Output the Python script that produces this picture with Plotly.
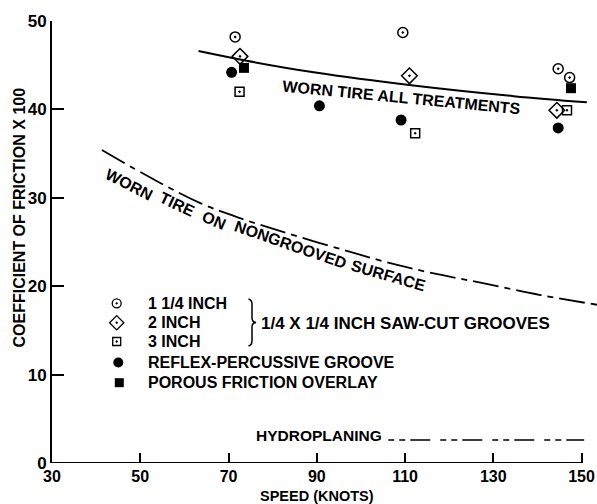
import plotly.graph_objects as go

# ---------------- data ----------------
speed_1_25in = [71.5, 109.5, 144.7, 147.3]
cof_1_25in = [48.2, 48.7, 44.6, 43.6]
speed_2in = [72.6, 111.0, 144.4]
cof_2in = [46.0, 43.8, 39.9]
speed_3in = [72.5, 112.3, 146.7]
cof_3in = [42.0, 37.3, 39.9]
speed_reflex = [70.7, 90.6, 109.1, 144.7]
cof_reflex = [44.2, 40.4, 38.8, 37.9]
speed_porous = [73.5, 147.6]
cof_porous = [44.7, 42.4]

worn_all_speed = [63.2, 74.1, 89.3, 111.9, 134.6, 151.2]
worn_all_cof = [46.6, 45.5, 44.2, 42.7, 41.5, 40.8]
nongroove_speed = [41.3, 53.7, 63.6, 72.6, 83.2, 96.8, 108.2, 118.0, 127.1, 140.7, 153.5]
nongroove_cof = [35.4, 31.9, 29.4, 27.7, 26.0, 24.0, 22.4, 21.3, 20.4, 19.0, 17.9]
hydro_speed = [106.2, 150.6]
hydro_cof = [2.6, 2.6]

x_ticks = [30, 50, 70, 90, 110, 130, 150]
y_ticks = [0, 10, 20, 30, 40, 50]

legend_labels = ["1 1/4 INCH", "2 INCH", "3 INCH", "REFLEX-PERCUSSIVE GROOVE", "POROUS FRICTION OVERLAY"]

# ---------------- layout helpers ----------------
W, H = 597, 504
L, R, T, B = 52, 0, 21, 41
XR = [30, 153.5]
YR = [0, 50]
pw, ph = W - L - R, H - T - B


def px2x(px):
    return XR[0] + (px - L) / pw * (XR[1] - XR[0])


def px2y(py):
    return YR[0] + (H - B - py) / ph * (YR[1] - YR[0])


def ppx(px):
    return (px - L) / pw


def ppy(py):
    return (H - B - py) / ph


FONT = "Liberation Sans, Arial, sans-serif"
BLK = "black"


def note(fig, px, py, text, size, angle=0, xanchor="center"):
    fig.add_annotation(x=ppx(px), y=ppy(py), xref="paper", yref="paper", text=text, showarrow=False,
                       xanchor=xanchor, yanchor="middle", textangle=angle,
                       font=dict(family=FONT, size=size, color=BLK, weight="bold"))


fig = go.Figure()

# curves
fig.add_trace(go.Scatter(x=worn_all_speed, y=worn_all_cof, mode="lines",
                         line=dict(color=BLK, width=2, shape="spline", smoothing=1.0)))
fig.add_trace(go.Scatter(x=nongroove_speed, y=nongroove_cof, mode="lines",
                         line=dict(color=BLK, width=1.8, shape="spline", smoothing=1.0,
                                   dash="26px,6px,6px,6px")))
fig.add_trace(go.Scatter(x=hydro_speed, y=hydro_cof, mode="lines",
                         line=dict(color=BLK, width=1.5, dash="6px,5px,6px,5px,20px,10px")))


def mk(sym, size, lw=1.5):
    return dict(symbol=sym, size=size, color=BLK, line=dict(color=BLK, width=lw))


fig.add_trace(go.Scatter(x=speed_1_25in, y=cof_1_25in, mode="markers",
                         marker=mk("circle-open-dot", 10)))
fig.add_trace(go.Scatter(x=speed_2in, y=cof_2in, mode="markers",
                         marker=mk("diamond-open-dot", 12)))
fig.add_trace(go.Scatter(x=speed_3in, y=cof_3in, mode="markers",
                         marker=mk("square-open-dot", 9)))
fig.add_trace(go.Scatter(x=speed_reflex, y=cof_reflex, mode="markers",
                         marker=mk("circle", 11, 0)))
fig.add_trace(go.Scatter(x=speed_porous, y=cof_porous, mode="markers",
                         marker=mk("square", 10, 0)))

# legend (symbols + labels)
leg_sym = [("circle-open-dot", 9, 1.3), ("diamond-open-dot", 11, 1.3), ("square-open-dot", 8, 1.3),
           ("circle", 10, 0), ("square", 9, 0)]
leg_px = [(116.7, 303.3), (116.7, 322.7), (116.7, 341.5), (118.3, 362.5), (119.3, 382.7)]
for (sym, sz, lw), (lx, ly), lab in zip(leg_sym, leg_px, legend_labels):
    fig.add_trace(go.Scatter(x=[px2x(lx)], y=[px2y(ly)], mode="markers", marker=mk(sym, sz, lw)))
    note(fig, 146, ly, lab, 16, xanchor="left")

note(fig, 259, 323, "1/4 X 1/4 INCH SAW-CUT GROOVES", 17, xanchor="left")


# brace
def P(px, py):
    return f"{px2x(px):.4f},{px2y(py):.4f}"


brace = (f"M {P(248.5,299)} Q {P(252,300)} {P(252,304)} L {P(252,318)} Q {P(252,322)} {P(256,322.5)} "
         f"Q {P(252,323)} {P(252,327)} L {P(252,341)} Q {P(252,345)} {P(248.5,346)}")
fig.add_shape(type="path", path=brace, xref="x", yref="y", line=dict(color=BLK, width=1.5))

# curve labels
note(fig, 401.7, 97.5, "WORN TIRE ALL TREATMENTS", 16, angle=5.5)
for word, (wx, wy), ang in [("WORN", (129, 184), 27), ("TIRE", (177.5, 204), 25), ("ON", (214, 220.5), 23),
                            ("NONGROOVED", (290, 244), 19), ("SURFACE", (388, 275.5), 16)]:
    note(fig, wx, wy, word, 16, angle=ang)
note(fig, 318.5, 435, "HYDROPLANING", 15.5)

# axis titles
note(fig, 317, 496, "SPEED (KNOTS)", 14.5)
note(fig, 19, 217.5, "COEFFICIENT OF FRICTION X 100", 16, angle=-90)

# x baseline
fig.add_shape(type="line", x0=x_ticks[0], x1=x_ticks[-1], y0=0, y1=0, xref="x", yref="y",
              line=dict(color=BLK, width=2))

fig.update_layout(
    width=W, height=H, margin=dict(l=L, r=R, t=T, b=B),
    paper_bgcolor="white", plot_bgcolor="white", showlegend=False,
    font=dict(family=FONT, color=BLK),
    xaxis=dict(range=XR, tickvals=x_ticks, ticktext=[str(v) for v in x_ticks], ticks="inside",
               ticklen=10, tickwidth=1.5, tickcolor=BLK, showline=False, showgrid=False, zeroline=False,
               ticklabelstandoff=2,
               tickfont=dict(family=FONT, size=16, color=BLK, weight="bold")),
    yaxis=dict(range=YR, tickvals=y_ticks, ticks="inside", ticklen=12, tickwidth=1.5, tickcolor=BLK,
               showline=True, linecolor=BLK, linewidth=2, showgrid=False, zeroline=False,
               tickfont=dict(family=FONT, size=17, color=BLK, weight="bold")),
)

fig.write_html("out.html", config={"displayModeBar": False})
